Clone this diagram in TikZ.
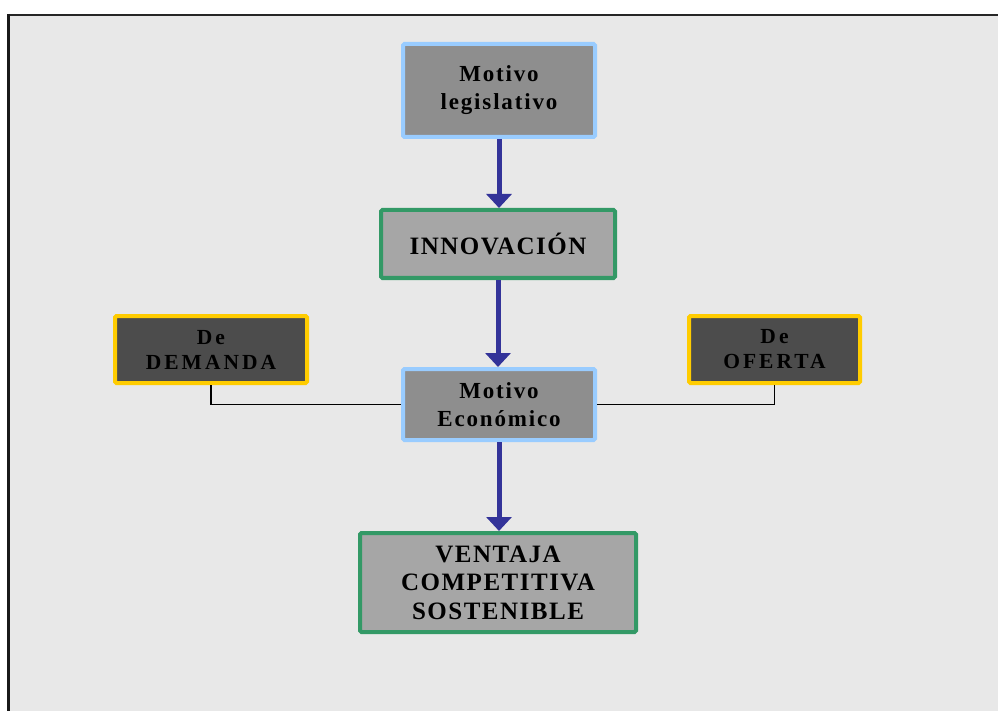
\documentclass[tikz,border=0pt]{standalone}
\usepackage{fontspec}
\setmainfont{Liberation Serif}
\newfontfamily\motivefont{Liberation Serif}[LetterSpace=8, BoldFont=Liberation Serif Bold]
\newfontfamily\stagefont{Liberation Serif}[LetterSpace=6, BoldFont=Liberation Serif Bold]
\newfontfamily\sourcefont{Liberation Serif}[LetterSpace=14, BoldFont=Liberation Serif Bold]
\usetikzlibrary{arrows.meta}
\definecolor{panel}{HTML}{E8E8E8}
\definecolor{skyedge}{HTML}{99CCFF}
\definecolor{greenedge}{HTML}{339966}
\definecolor{goldedge}{HTML}{FFCC00}
\definecolor{midgrey}{HTML}{8E8E8E}
\definecolor{lightgrey}{HTML}{A6A6A6}
\definecolor{darkgrey}{HTML}{4C4C4C}
\definecolor{flow}{HTML}{333399}
\tikzset{
  x=1pt, y=-1pt,
  box/.style={draw, line width=4pt, rounded corners=1.5pt, inner sep=0pt,
    align=center, text=black},
  motive/.style={box, draw=skyedge, fill=midgrey, font=\motivefont\bfseries\fontsize{23}{28}\selectfont},
  stage/.style={box, draw=greenedge, fill=lightgrey, font=\stagefont\bfseries\fontsize{25}{28.5}\selectfont},
  source/.style={box, draw=goldedge, fill=darkgrey, font=\sourcefont\bfseries\fontsize{21.5}{25}\selectfont},
  flowarrow/.style={draw=flow, line width=5pt, -{Triangle[width=25pt,length=14pt]}},
  link/.style={draw=black, line width=1.2pt}
}
\begin{document}
\begin{tikzpicture}
  % page and panel
  \fill[white] (0,0) rectangle (998,711);
  \useasboundingbox (0,0) rectangle (998,711);
  \fill[panel] (8,15) rectangle (998,711);
  \draw[line width=2pt, black!85] (7,15) -- (998,15);
  \draw[line width=3pt, black!90] (8,14) -- (8,711);

  % boxes
  \node[motive, minimum width=192pt, minimum height=93pt] (legis) at (499,90.5) {Motivo\\legislativo};
  \node[stage, minimum width=234pt, minimum height=68pt] (innov) at (498,244) {INNOVACIÓN};
  \node[source, minimum width=192pt, minimum height=67pt] (demanda) at (211,349.5) {De\\DEMANDA};
  \node[source, minimum width=171pt, minimum height=67pt] (oferta) at (774.5,349.5) {De\\OFERTA};
  \node[motive, minimum width=192pt, minimum height=71pt] (econ) at (499,404.5) {Motivo\\Económico};
  \node[stage, minimum width=276pt, minimum height=99pt] (ventaja) at (498,582.5) {VENTAJA\\COMPETITIVA\\SOSTENIBLE};

  % side connectors
  \draw[link] (demanda.south) |- (econ.west);
  \draw[link] (oferta.south) |- (econ.east);

  % main flow
  \draw[flowarrow] (legis.south) -- (legis.south |- innov.north);
  \draw[flowarrow] (innov.south) -- (innov.south |- econ.north);
  \draw[flowarrow] (econ.south) -- (econ.south |- ventaja.north);
\end{tikzpicture}
\end{document}
